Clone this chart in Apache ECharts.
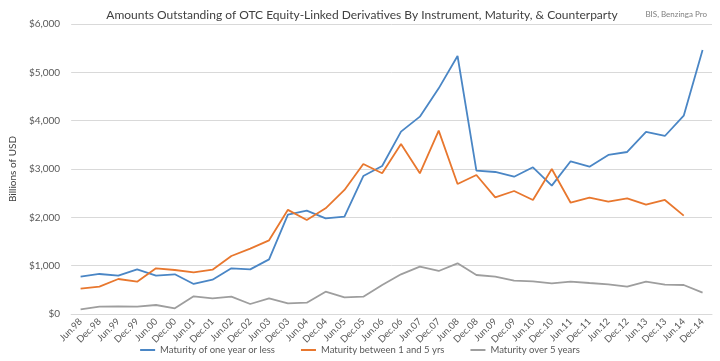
<!DOCTYPE html>
<html><head><meta charset="utf-8">
<script src="https://cdn.jsdelivr.net/npm/echarts@6/dist/echarts.min.js"></script>
<style>html,body{margin:0;padding:0;background:#fff}#c{width:720px;height:361px}</style>
</head><body><div id="c"></div>
<script>
const categories = ["Jun.98","Dec.98","Jun.99","Dec.99","Jun.00","Dec.00","Jun.01","Dec.01","Jun.02","Dec.02","Jun.03","Dec.03","Jun.04","Dec.04","Jun.05","Dec.05","Jun.06","Dec.06","Jun.07","Dec.07","Jun.08","Dec.08","Jun.09","Dec.09","Jun.10","Dec.10","Jun.11","Dec.11","Jun.12","Dec.12","Jun.13","Dec.13","Jun.14","Dec.14"];
const oneYearOrLess = [772,828,793,924,793,821,621,710,945,924,1131,2055,2138,1980,2014,2855,3062,3773,4083,4669,5338,2966,2938,2841,3035,2655,3159,3048,3290,3352,3766,3683,4104,5463];
const between1and5 = [524,566,724,669,945,910,862,917,1200,1352,1524,2155,1945,2186,2566,3104,2911,3518,2911,3793,2690,2876,2414,2545,2359,3000,2303,2407,2324,2393,2262,2359,2035,null];
const over5 = [97,152,159,152,186,117,366,324,359,207,324,221,234,462,345,359,600,821,979,890,1049,807,772,690,676,635,669,641,614,566,669,607,600,442];
const yTicks = {min:0, max:6000, interval:1000};

const font = 'Lato, "Open Sans", sans-serif';
const chart = echarts.init(document.getElementById('c'));
const mk = (name, data, color) => ({
  name, type:'line', data, symbol:'none', connectNulls:false,
  lineStyle:{color, width:1.8}, itemStyle:{color}
});
chart.setOption({
  animation:false,
  textStyle:{fontFamily:font},
  title:[
    {text:'Amounts Outstanding of OTC Equity-Linked Derivatives By Instrument, Maturity, & Counterparty',
     left:357, textAlign:'center', top:4, textStyle:{fontSize:12, fontWeight:'normal', color:'#404040', fontFamily:font}},
    {text:'BIS, Benzinga Pro', right:8, top:5, textStyle:{fontSize:8, fontWeight:'normal', color:'#7f7f7f', fontFamily:font}}
  ],
  grid:{left:57, right:8, top:24, bottom:47},
  legend:{bottom:1, left:'center', icon:'rect', itemWidth:15, itemHeight:2, itemGap:26,
    textStyle:{fontSize:9.5, color:'#595959', fontFamily:font}},
  xAxis:{type:'category', data:categories, boundaryGap:true,
    axisLine:{show:true, lineStyle:{color:'#d9d9d9'}}, axisTick:{show:false},
    axisLabel:{interval:0, rotate:45, fontSize:9.5, color:'#595959', margin:6, fontFamily:font}},
  yAxis:{type:'value', min:yTicks.min, max:yTicks.max, interval:yTicks.interval,
    name:'Billions of USD', nameLocation:'middle', nameGap:44, nameRotate:90,
    nameTextStyle:{fontSize:10, color:'#404040', fontFamily:font},
    axisLine:{show:false}, axisTick:{show:false},
    splitLine:{lineStyle:{color:'#d9d9d9'}},
    axisLabel:{fontSize:10, color:'#595959', margin:11, fontFamily:font,
      formatter:v=>'$'+v.toLocaleString('en-US')}},
  series:[
    mk('Maturity of one year or less', oneYearOrLess, '#4a86c5'),
    mk('Maturity between 1 and 5 yrs', between1and5, '#e8772e'),
    mk('Maturity over 5 years', over5, '#9e9e9e')
  ]
});
</script></body></html>
